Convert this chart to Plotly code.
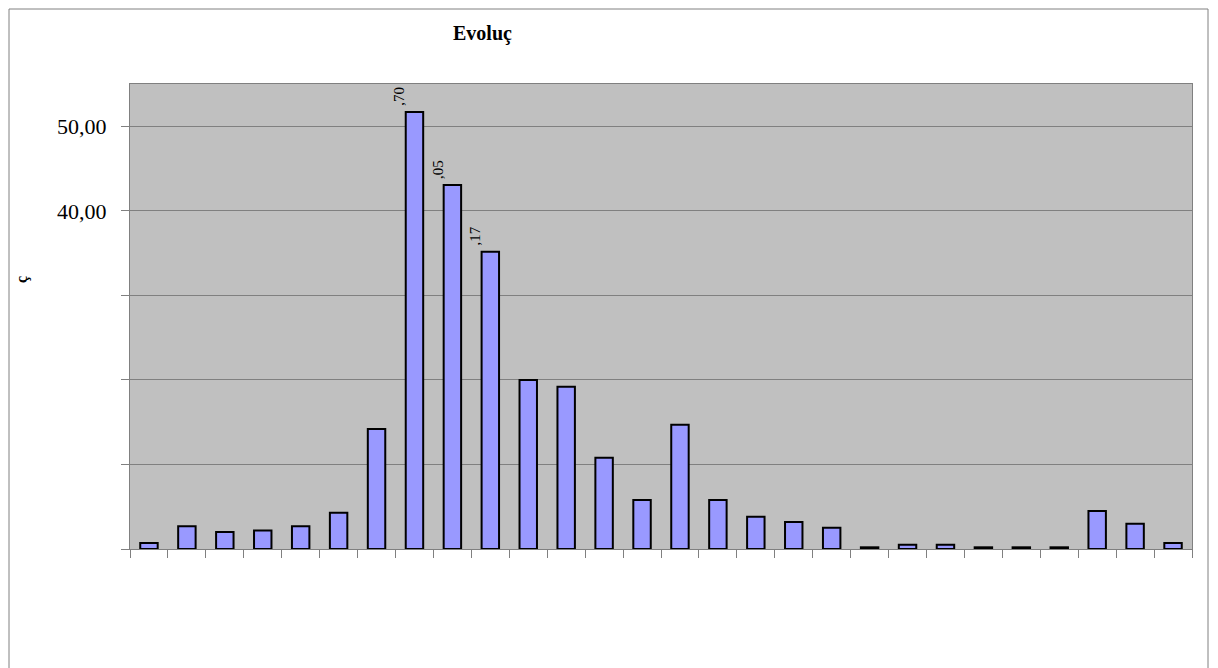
import plotly.graph_objects as go

categories = list(range(1, 29))
values = [0.7, 2.7, 2.0, 2.2, 2.7, 4.3, 14.2, 51.70, 43.05, 35.17, 20.0, 19.2, 10.8, 5.8,
          14.7, 5.8, 3.8, 3.2, 2.5, 0.2, 0.5, 0.5, 0.2, 0.2, 0.2, 4.5, 3.0, 0.7]
labelled = [8, 9, 10]
y_tickvals = [0, 10, 20, 30, 40, 50]
y_ticktext = ["", "", "", "", "40,00", "50,00"]
title_text = "Evoluç"
y_title_text = "ç"

# page body has an 8px margin; work in figure pixel coordinates
OFF = 8
W, H = 1218, 668
L, T = 130 - OFF, 84 - OFF
pw, ph = 1062, 465
R, B = W - L - pw, H - T - ph

def px_to_paper_x(px):
    return (px - OFF - L) / pw

def px_to_paper_y(py):
    return (T + ph - (py - OFF)) / ph

fig = go.Figure()
fig.add_trace(go.Bar(
    x=categories, y=values, width=0.46,
    marker=dict(color="#9999FF", line=dict(color="black", width=2)),
    hoverinfo="skip",
))

annotations = []
for c in labelled:
    v = values[c - 1]
    txt = f"{v:.2f}".replace(".", ",")[-3:]
    annotations.append(dict(
        x=c, y=v, xref="x", yref="y", text=txt, showarrow=False,
        textangle=-90, xanchor="center", yanchor="bottom",
        xshift=-15, yshift=4,
        font=dict(family="Liberation Serif", size=15, color="black"),
    ))

annotations.append(dict(
    x=px_to_paper_x(482), y=px_to_paper_y(33), xref="paper", yref="paper",
    text=f"<b>{title_text}</b>", showarrow=False, xanchor="center", yanchor="middle",
    font=dict(family="Liberation Serif", size=20, color="black"),
))
annotations.append(dict(
    x=px_to_paper_x(22), y=px_to_paper_y(280), xref="paper", yref="paper",
    text=f"<b>{y_title_text}</b>", showarrow=False, textangle=-90,
    xanchor="center", yanchor="middle",
    font=dict(family="Liberation Serif", size=16, color="black"),
))

fig.update_layout(
    width=W, height=H,
    margin=dict(l=L, r=R, t=T, b=B, autoexpand=False),
    paper_bgcolor="white", plot_bgcolor="#C0C0C0",
    showlegend=False,
    annotations=annotations,
    shapes=[dict(
        type="rect", xref="paper", yref="paper",
        x0=px_to_paper_x(9), x1=px_to_paper_x(1208),
        y0=px_to_paper_y(720), y1=px_to_paper_y(9),
        line=dict(color="#808080", width=1), fillcolor="rgba(0,0,0,0)", layer="below",
    )],
    xaxis=dict(
        range=[0.5, 28.5], tickmode="array",
        tickvals=[i + 0.5 for i in range(0, 29)], showticklabels=False,
        ticks="outside", ticklen=8, tickcolor="#808080", tickwidth=1,
        showgrid=False, zeroline=False,
        showline=True, linecolor="#808080", linewidth=1, mirror=True,
    ),
    yaxis=dict(
        range=[0, 55], tickmode="array", tickvals=y_tickvals, ticktext=y_ticktext,
        ticks="outside", ticklen=8, tickcolor="#808080", tickwidth=1,
        tickfont=dict(family="Liberation Serif", size=22, color="black"),
        showgrid=True, gridcolor="#808080", gridwidth=1, zeroline=False,
        showline=True, linecolor="#808080", linewidth=1, mirror=True,
        ticklabelstandoff=10,
    ),
)

fig.write_html("out.html")
